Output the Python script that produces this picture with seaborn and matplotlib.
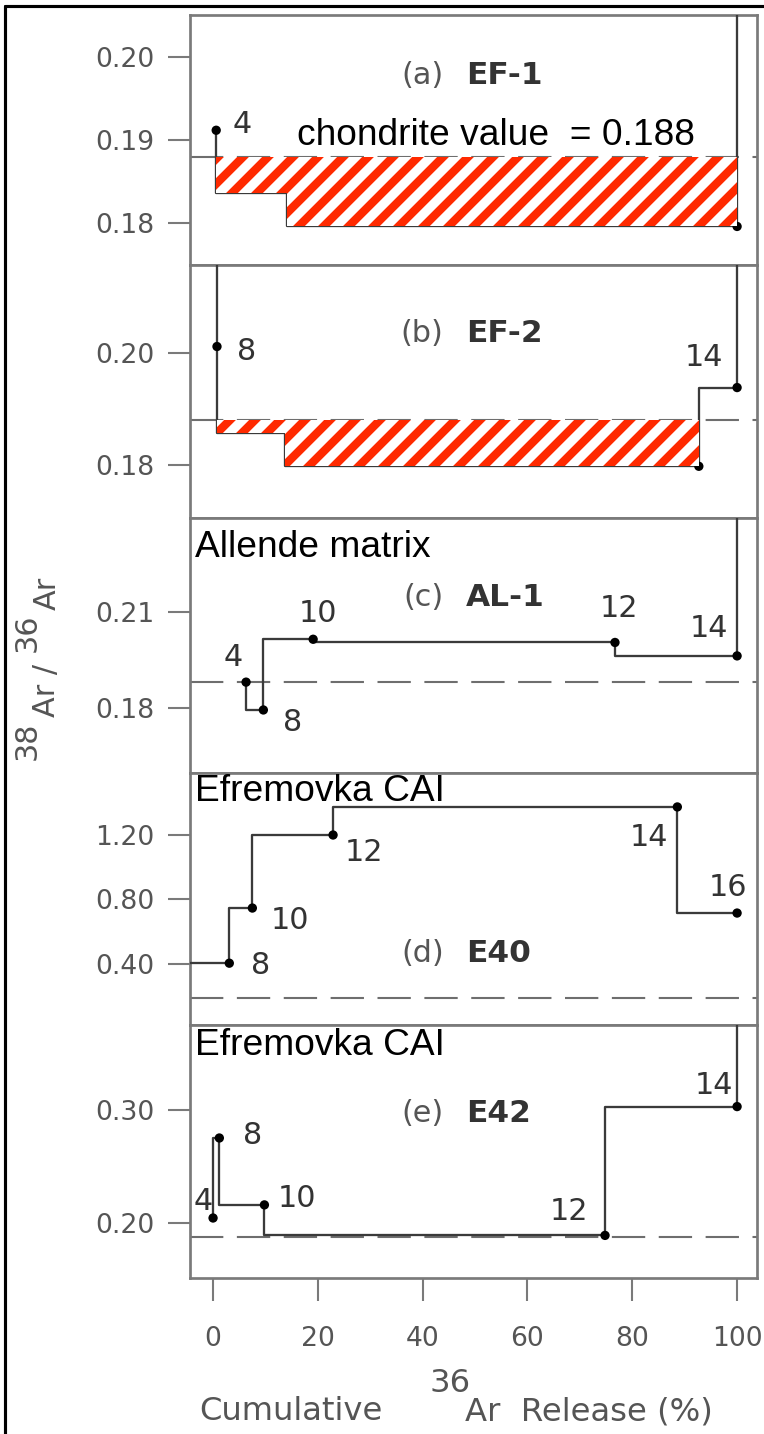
import numpy as np
import pandas as pd
import matplotlib
matplotlib.use("Agg")
import matplotlib.pyplot as plt
import seaborn as sns
from matplotlib.lines import Line2D

# ---------------- data ----------------
CHONDRITE = 0.188

panel_tags = ["(a)", "(b)", "(c)", "(d)", "(e)"]
sample_names = ["EF-1", "EF-2", "AL-1", "E40", "E42"]
sample_notes = ["", "", "Allende matrix", "Efremovka CAI", "Efremovka CAI"]

# cumulative 36Ar release (%) at the end of each step, and the 38Ar/36Ar ratio of that step
cum_a = [0.6, 14.1, 100.0]
ratio_a = [0.1912, 0.1836, 0.1796]
step_a = ["4", "", ""]
dot_a = [True, False, True]

cum_b = [0.75, 13.8, 92.7, 100.0]
ratio_b = [0.2011, 0.1857, 0.1798, 0.1938]
step_b = ["8", "", "", "14"]
dot_b = [True, False, True, True]

cum_c = [6.3, 9.6, 19.1, 76.7, 100.0]
ratio_c = [0.1881, 0.1794, 0.2015, 0.2005, 0.1963]
step_c = ["4", "8", "10", "12", "14"]
dot_c = [True, True, True, True, True]

cum_d = [3.1, 7.5, 22.9, 88.6, 100.0]
ratio_d = [0.405, 0.747, 1.20, 1.374, 0.716]
step_d = ["8", "10", "12", "14", "16"]
dot_d = [True, True, True, True, True]

cum_e = [0.0, 1.2, 9.8, 74.8, 100.0]
ratio_e = [0.2044, 0.2752, 0.216, 0.189, 0.303]
step_e = ["4", "8", "10", "12", "14"]
dot_e = [True, True, True, True, True]

x_ticks = [0, 20, 40, 60, 80, 100]
yticks_a = [0.18, 0.19, 0.20]
yticks_b = [0.18, 0.20]
yticks_c = [0.18, 0.21]
yticks_d = [0.40, 0.80, 1.20]
yticks_e = [0.20, 0.30]

# ---------------- layout / style ----------------
W, H, DPI = 764, 1434, 150
sns.set_style("ticks")
plt.rcParams["font.family"] = ["DejaVu Sans"]
plt.rcParams["hatch.linewidth"] = 4.0
RED = "#ff2a00"
plt.rcParams["hatch.color"] = RED

LINE = "#3a3a3a"
FRAME = "#7a7a7a"
DASH = "#6e6e6e"
TXT = "#555555"
DARK = "#333333"
OVER_FONT = ["Liberation Sans", "DejaVu Sans"]

fig = plt.figure(figsize=(W / DPI, H / DPI), dpi=DPI)
fig.patch.set_facecolor("white")


def fx(px):
    return px / W


def fy(py):
    return 1 - py / H


XLIM = (-4.4, 103.8)
panel_px = [(15, 265), (265, 518), (518, 773), (773, 1025), (1025, 1278)]
ylims = [(0.17495, 0.2051), (0.1706, 0.2156), (0.1597, 0.2394),
         (0.0217, 1.5845), (0.1513, 0.3752)]
left_px, right_px = 190, 757

panels = [
    dict(cum=cum_a, ratio=ratio_a, steps=step_a, dots=dot_a, yticks=yticks_a,
         offsets=[(12.5, 3), None, None],
         tag_y=0.1978, note_y=None, enter=None, exit_up=True, hatch=True),
    dict(cum=cum_b, ratio=ratio_b, steps=step_b, dots=dot_b, yticks=yticks_b,
         offsets=[(14, -2.4), None, None, (-15.8, 14.4)],
         tag_y=0.2035, note_y=None, enter="top", exit_up=True, hatch=True),
    dict(cum=cum_c, ratio=ratio_c, steps=step_c, dots=dot_c, yticks=yticks_c,
         offsets=[(-6.2, 12), (14, -5.8), (2.4, 12.5), (2, 16.3), (-13.4, 13)],
         tag_y=0.2144, note_y=0.2303, enter=None, exit_up=True, hatch=False),
    dict(cum=cum_d, ratio=ratio_d, steps=step_d, dots=dot_d, yticks=yticks_d,
         offsets=[(15, -1), (17.8, -5.8), (15, -8.2), (-13.4, -14.9), (-4.3, 12.5)],
         tag_y=0.468, note_y=1.467, enter="left", exit_up=False, hatch=False),
    dict(cum=cum_e, ratio=ratio_e, steps=step_e, dots=dot_e, yticks=yticks_e,
         offsets=[(-4.8, 7.7), (15.8, 1), (15.4, 2.9), (-17.3, 11.5), (-11, 10)],
         tag_y=0.297, note_y=0.3575, enter=None, exit_up=True, hatch=False),
]

axes = []
for i, (p, (top, bot)) in enumerate(zip(panels, panel_px)):
    ax = fig.add_axes([fx(left_px), fy(bot), fx(right_px) - fx(left_px), (bot - top) / H])
    axes.append(ax)
    ylo, yhi = ylims[i]

    df = pd.DataFrame({"cum": p["cum"], "ratio": p["ratio"]})

    # chondritic reference ratio
    ax.axhline(CHONDRITE, color=DASH, linewidth=1.0, dashes=(16, 6.5), zorder=2)

    # step spectrum: each step spans from the previous cumulative release to its own
    sns.lineplot(data=df, x="cum", y="ratio", ax=ax, sort=False, estimator=None,
                 drawstyle="steps-pre", color=LINE, linewidth=1.1, zorder=3)
    if p["enter"] == "top":
        ax.vlines(p["cum"][0], p["ratio"][0], yhi, color=LINE, linewidth=1.1, zorder=3)
    elif p["enter"] == "left":
        ax.hlines(p["ratio"][0], XLIM[0], p["cum"][0], color=LINE, linewidth=1.1, zorder=3)
    if p["exit_up"]:
        ax.vlines(p["cum"][-1], p["ratio"][-1], yhi, color=LINE, linewidth=1.1, zorder=3)

    dots = df[np.array(p["dots"])]
    sns.scatterplot(data=dots, x="cum", y="ratio", ax=ax, color="black", s=20,
                    edgecolor="none", zorder=4, legend=False)

    # step numbers
    for c, r, s, off in zip(p["cum"], p["ratio"], p["steps"], p["offsets"]):
        if s:
            ax.annotate(s, (c, r), xytext=off, textcoords="offset points",
                        ha="center", va="center", fontsize=14.5, color=DARK, zorder=6)

    # deficit relative to the chondritic value
    if p["hatch"]:
        lower = np.minimum(np.array(p["ratio"]), CHONDRITE)
        ax.fill_between(p["cum"], lower, CHONDRITE, step="pre", facecolor="white",
                        edgecolor=RED, hatch="//", linewidth=0, zorder=5)

    # panel title
    ax.text(44.0, p["tag_y"], panel_tags[i], ha="right", va="center",
            fontsize=14.5, color=TXT, zorder=6)
    ax.text(48.2, p["tag_y"], sample_names[i], ha="left", va="center",
            fontsize=15, fontweight="bold", color=DARK, zorder=6)
    if p["note_y"] is not None:
        ax.text(-3.5, p["note_y"], sample_notes[i], ha="left", va="center",
                fontsize=17.8, family=OVER_FONT, color="black", zorder=7)

    ax.set_xlim(*XLIM)
    ax.set_ylim(ylo, yhi)
    ax.set_yticks(p["yticks"])
    ax.set_yticklabels([f"{v:.2f}" for v in p["yticks"]])
    ax.set_xlabel("")
    ax.set_ylabel("")
    for sp in ax.spines.values():
        sp.set_visible(True)
        sp.set_color(FRAME)
        sp.set_linewidth(1.3)
    ax.tick_params(axis="y", direction="out", length=10.5, width=1.0, color=FRAME,
                   pad=6.7, labelsize=12.8, labelcolor=TXT, right=False)
    if i < 4:
        ax.tick_params(axis="x", bottom=False, labelbottom=False, top=False)
    else:
        ax.set_xticks(x_ticks)
        ax.set_xticklabels([str(v) for v in x_ticks])
        ax.tick_params(axis="x", direction="out", length=11, width=1.0, color=FRAME,
                       pad=12, labelsize=12.8, labelcolor=TXT, top=False)

# chondrite annotation
axes[0].text(16.1, 0.1906, f"chondrite value  = {CHONDRITE:.3f}", ha="left", va="center",
             fontsize=17.8, family=OVER_FONT, color="black", zorder=7)

# x-axis title
fig.text(fx(199), fy(1412), "Cumulative", ha="left", va="center", fontsize=15.5, color=TXT)
fig.text(fx(450), fy(1384), "36", ha="center", va="center", fontsize=15.5, color=TXT)
fig.text(fx(465), fy(1412), "Ar  Release (%)", ha="left", va="center", fontsize=15.5, color=TXT)

# y-axis title, read bottom to top
fig.text(fx(27), fy(741), "38", ha="center", va="center", rotation=90, fontsize=14.5, color=TXT)
fig.text(fx(47), fy(690), "Ar /", ha="center", va="center", rotation=90, fontsize=14.5, color=TXT)
fig.text(fx(27), fy(633), "36", ha="center", va="center", rotation=90, fontsize=14.5, color=TXT)
fig.text(fx(47), fy(593), "Ar", ha="center", va="center", rotation=90, fontsize=14.5, color=TXT)

# outer frame (top and left edges fall inside the canvas)
fig.add_artist(Line2D([fx(5), 1.0], [fy(5.5), fy(5.5)], transform=fig.transFigure,
                      color="black", linewidth=1.5, zorder=10))
fig.add_artist(Line2D([fx(5), fx(5)], [fy(5.5), 0.0], transform=fig.transFigure,
                      color="black", linewidth=1.5, zorder=10))

fig.savefig("out.png", dpi=DPI, facecolor="white")
